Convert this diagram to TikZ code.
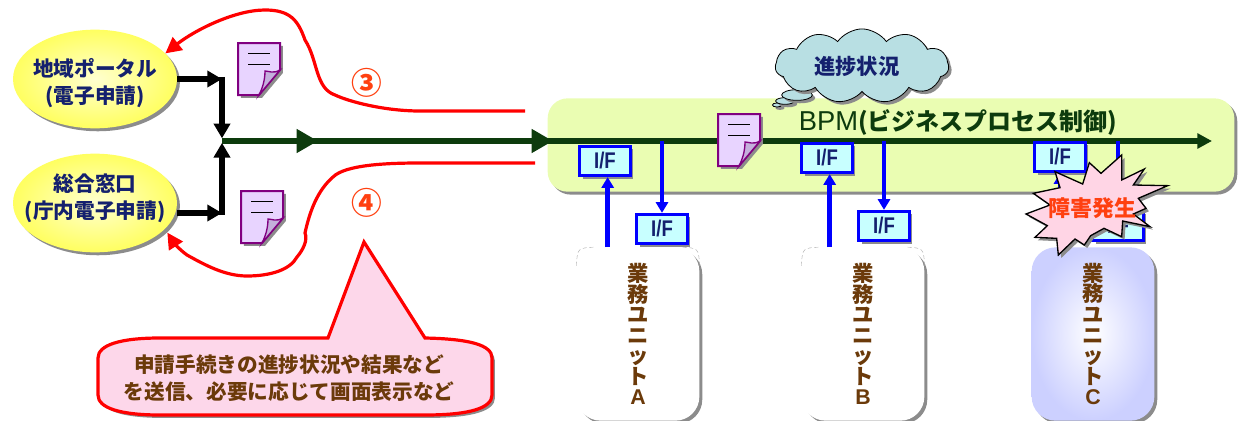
\documentclass[tikz,border=0pt]{standalone}
\usepackage{fontspec}
\setmainfont{Noto Sans CJK JP}
\newfontfamily\latinfont{Liberation Sans}
\newfontfamily\iffont[FakeStretch=.82]{Liberation Sans}
\usetikzlibrary{arrows.meta,shadows,shapes.geometric,shapes.symbols}
\lineskiplimit=-20pt

\definecolor{navytext}{HTML}{14206E}
\definecolor{browntext}{HTML}{6B3A0A}
\definecolor{linegreen}{HTML}{0D3B0D}
\definecolor{shadowgray}{HTML}{8C8C8C}
\definecolor{docfill}{HTML}{E8D4FF}
\definecolor{docfold}{HTML}{C4B0DC}
\definecolor{docline}{HTML}{800080}
\definecolor{redorange}{HTML}{FF4010}
\definecolor{pureblue}{HTML}{0000FF}
\definecolor{purered}{HTML}{FF0000}
\definecolor{portaledge}{HTML}{FFFF60}
\definecolor{portalmid}{HTML}{FFFFD0}
\definecolor{ifcyan}{HTML}{C8FFFF}
\definecolor{bandedge}{HTML}{EAFDB2}
\definecolor{bandmid}{HTML}{FAFFDC}
\definecolor{cloudblue}{HTML}{B8DFE3}
\definecolor{burstpink}{HTML}{FFD5E5}
\definecolor{calloutpink}{HTML}{FDD7EA}
\definecolor{unitedge}{HTML}{CCD0FF}

\tikzset{
  softshadow/.style={drop shadow={shadow xshift=2.2pt,shadow yshift=-2.2pt,opacity=1,fill=shadowgray}},
  portal/.style={ellipse, softshadow, inner color=portalmid, outer color=portaledge, minimum width=123pt, minimum height=74pt, inner sep=0pt},
  portaltext/.style={align=center, text=navytext, font=\fontsize{15.5}{20}\selectfont\bfseries},
  ifbox/.style={rectangle, draw=pureblue, line width=2.2pt, fill=ifcyan, softshadow, minimum width=38pt, minimum height=22pt, inner sep=0pt, text=navytext, font=\iffont\fontsize{17}{17}\selectfont\bfseries},
  unitbox/.style={rectangle, rounded corners=18pt, softshadow, minimum width=92pt, minimum height=130pt, inner sep=0pt, align=center, text=browntext, font=\fontsize{16}{15.4}\selectfont\bfseries},
  unitrim/.style={gray!70, line width=.3pt, densely dashed},
  blackline/.style={line width=4pt, -{Triangle[length=11pt,width=12pt]}},
  ifarrow/.style={pureblue, line width=3.7pt, -{Triangle[length=8pt,width=9pt]}},
  mainline/.style={linegreen, line width=4pt},
  redcurve/.style={purered, line width=2.4pt, -{Triangle[length=12pt,width=12pt]}},
  bubble/.style={ellipse, draw=black, line width=.6pt, fill=cloudblue, softshadow, inner sep=0pt},
  docpage/.pic={
    \path[softshadow, fill=docfill, draw=docline, line width=1.5pt] (0,0) -- (42,0) -- (42,27) -- (21,52) -- (0,52) -- cycle;
    \path[fill=docfold, draw=docline, line width=1pt] (42,27) .. controls (35,31) and (31,28) .. (27,28) .. controls (27,38) and (24,46) .. (21,52) -- cycle;
    \draw[black, line width=.7pt] (10,10) -- (32,10) (10,21) -- (32,21);
  }
}

\begin{document}
\begin{tikzpicture}[x=.75pt, y=-.75pt]
\useasboundingbox (0,0) rectangle (1239,421);
% Band with the process line
\node (bpmband) [rectangle, rounded corners=15pt, softshadow, top color=bandedge, middle color=bandmid, bottom color=bandedge, minimum width=515pt, minimum height=70pt, inner sep=0pt] at (891,145) {};
\node (bpmlabel) [text=linegreen, font=\fontsize{18}{18}\selectfont\bfseries] at (958,122) {{\latinfont\fontsize{20.5}{20.5}\selectfont\mdseries BPM}(ビジネスプロセス制御)};

% Entry points
\node (portala) [portal] at (95,79) {};
\node (portalb) [portal] at (95,203) {};
\node (portalatext) [portaltext] at (95,83) {地域ポータル\\(電子申請)};
\node (portalbtext) [portaltext] at (95,198) {総合窓口\\(庁内電子申請)};

% Fixed points on the lines
\coordinate (junction) at (222,141);
\coordinate (joina) at (222,79);
\coordinate (joinb) at (222,213);
\coordinate (mainarrowa) at (318,141);
\coordinate (mainarrowb) at (553,141);
\coordinate (mainend) at (1212,141);
\coordinate (replyastart) at (525,111);
\coordinate (replybstart) at (535,163);

% Main line
\draw[mainline, -{Triangle[length=16pt,width=17pt]}] (junction) -- (mainarrowa);
\draw[mainline, -{Triangle[length=16pt,width=17pt]}] ([xshift=-14pt]mainarrowa) -- (mainarrowb);
\draw[mainline, -{Triangle[length=11pt,width=11pt]}] ([xshift=-14pt]mainarrowb) -- (mainend);

\draw[blackline] (portala.east |- joina) -- (joina);
\draw[blackline] ([yshift=1.6pt]joina) -- ([yshift=2pt]junction);
\draw[blackline] (portalb.east |- joinb) -- (joinb);
\draw[blackline] ([yshift=-1.6pt]joinb) -- ([yshift=-1.4pt]junction);

% Replies
\draw[redcurve] (replyastart) -- (420,111) .. controls (385,111) and (350,102) .. (335,95) .. controls (315,88) and (318,60) .. (305,40) .. controls (298,20) and (290,10) .. (265,10) .. controls (235,10) and (195,30) .. ([shift={(2,2)}]portala.22);
\draw[redcurve] (replybstart) -- (420,163) .. controls (385,163) and (345,165) .. (333,177) .. controls (318,190) and (310,210) .. (305,233) .. controls (308,240) and (303,250) .. (297,257) .. controls (290,270) and (270,276) .. (247,276) .. controls (225,276) and (205,265) .. (187,255) .. controls (180,250) and (174,243) .. ([shift={(4,2)}]portalb.-22);
\node (numthree) [text=redorange, font=\fontsize{23}{23}\selectfont\bfseries] at (367,83) {③};
\node (numfour) [text=redorange, font=\fontsize{23}{23}\selectfont\bfseries] at (367,203) {④};

% Documents
\pic (doca) at (238,43) {docpage};
\pic (docb) at (241,191) {docpage};
\pic (docc) at (718,114) {docpage};

% Units
\node (unita) [unitbox, fill=white] at (638,334) {業\\務\\ユ\\ニ\\ッ\\ト\\\latinfont A};
\node (unitb) [unitbox, fill=white] at (863,334) {業\\務\\ユ\\ニ\\ッ\\ト\\\latinfont B};
\node (unitc) [unitbox, inner color=white, outer color=unitedge] at (1093,334) {業\\務\\ユ\\ニ\\ッ\\ト\\\latinfont C};
\foreach \unitname in {unita,unitb} {
  \draw[unitrim] ([yshift=-14pt]\unitname.north west) .. controls ([shift={(1,1)}]\unitname.north west) .. ([xshift=14pt]\unitname.north west);
  \draw[unitrim] ([yshift=-14pt]\unitname.north east) .. controls ([shift={(-1,1)}]\unitname.north east) .. ([xshift=-14pt]\unitname.north east);
}

% Interfaces
\node (ifaup)   [ifbox] at (605,161) {I/F};
\node (ifadown) [ifbox] at (662,229) {I/F};
\node (ifbup)   [ifbox] at (827,158) {I/F};
\node (ifbdown) [ifbox] at (884,226) {I/F};
\node (ifcup)   [ifbox] at (1060,157) {I/F};
\node (ifcdown) [ifbox] at (1118,226) {I/F};

\draw[ifarrow] ([xshift=2pt]ifaup.south |- unita.north) -- ([xshift=2pt]ifaup.south);
\draw[ifarrow] (ifadown.north |- mainend) -- (ifadown.north);
\draw[ifarrow] ([xshift=2pt]ifbup.south |- unitb.north) -- ([xshift=2pt]ifbup.south);
\draw[ifarrow] (ifbdown.north |- mainend) -- (ifbdown.north);
\draw[ifarrow] (ifcup.south |- unitc.north) -- (ifcup.south);
\draw[ifarrow] (ifcdown.north |- mainend) -- (ifcdown.north);

% Cloud with its bubbles
\node (cloudc) [bubble, minimum width=7pt, minimum height=3pt] at (777,105) {};
\node (cloudb) [bubble, minimum width=14pt, minimum height=5pt] at (785,101) {};
\node (clouda) [bubble, minimum width=23pt, minimum height=8pt] at (797,95) {};
\node (progress) [cloud, cloud puffs=11, cloud puff arc=110, aspect=2.4, draw=black, line width=.6pt, fill=cloudblue, softshadow, minimum width=130pt, minimum height=54pt, inner sep=0pt, text=navytext, font=\fontsize{16}{16}\selectfont\bfseries] at (862,66) {進捗状況\kern8pt};

% Burst on top of unit C
\begin{scope}[shift={(900,90)}, x=.25pt, y=-.25pt]
\path[softshadow, fill=burstpink, draw=black, line width=1pt] (665,195) -- (665,270) -- (733,237) -- (700,285) -- (803,287) -- (715,325) -- (738,355) -- (700,372) -- (750,410) -- (668,393) -- (665,440) -- (612,415) -- (572,437) -- (553,465) -- (525,447) -- (475,495) -- (470,445) -- (405,442) -- (442,407) -- (378,372) -- (450,345) -- (400,310) -- (480,293) -- (465,245) -- (548,282) -- (568,218) -- (603,250) -- cycle;
\end{scope}
\node (faultlabel) [text=redorange, font=\fontsize{16.5}{16.5}\selectfont\bfseries] at (1092,208) {障害発生};

% Callout
\path[softshadow, fill=calloutpink, draw=purered, line width=2.4pt] (328,338) -- (364,242) -- (425,338) .. controls (470,339) and (492,345) .. (492,358) -- (492,395) .. controls (492,408) and (470,415) .. (425,415) -- (160,415) .. controls (120,415) and (98,408) .. (98,395) -- (98,358) .. controls (98,345) and (120,338) .. (160,338) -- cycle;
\node (calloutlabel) [align=center, text=browntext, font=\fontsize{15.5}{20}\selectfont\bfseries] at (289,378) {申請手続きの進捗状況や結果など\\を送信、必要に応じて画面表示など};
\end{tikzpicture}
\end{document}
